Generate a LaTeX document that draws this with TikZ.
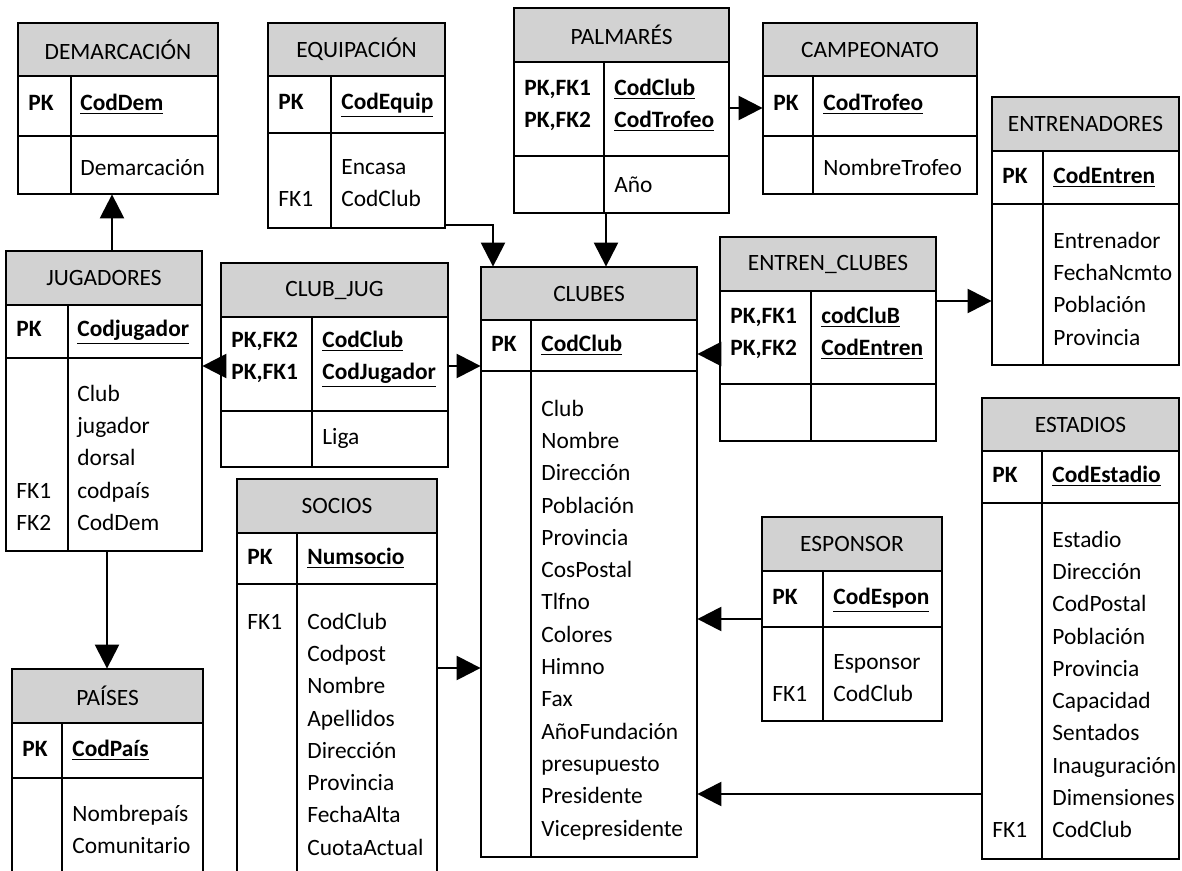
\documentclass[tikz,border=0pt]{standalone}
\usepackage{fontspec}
\setmainfont{Carlito}
\usetikzlibrary{arrows.meta,fit}

\newcommand{\clave}[1]{\textbf{\underline{#1}}}
% #1 name, #2 left, #3 top, #4 right, #5 split, #6 end of title, #7 end of key row, #8 bottom, #9 title
\newcommand{\tabla}[9]{%
  \fill[cabecera] (#2,#3) rectangle (#4,#6);
  \draw[borde] (#2,#3) rectangle (#4,#8);
  \draw[borde] (#2,#6) -- (#4,#6) (#2,#7) -- (#4,#7) (#5,#6) -- (#5,#8);
  \node[titulo] (#1-tit) at ({(#2+#4)/2},{(#3+#6)/2}) {#9};
  \node[caja, fit={(#2,#3) (#4,#8)}] (#1) {};
}
% #1 name, #2 x, #3 y of first line, #4 lines
\newcommand{\filas}[4]{%
  \foreach \t [count=\i] in {#4}
    \node[campo] (#1-\i) at (#2,{#3+(\i-1)*32.3}) {\t};
}

\begin{document}
\begin{tikzpicture}
[x=0.5pt,y=-0.5pt,
 borde/.style={line width=1pt},
 cabecera/.style={fill=gray!35},
 caja/.style={inner sep=0pt},
 titulo/.style={inner sep=0pt,font=\fontsize{11.7}{14}\selectfont},
 campo/.style={anchor=west,inner sep=0pt,text height=8pt,text depth=2.5pt,
   font=\fontsize{11.7}{14}\selectfont},
 rel/.style={line width=1.2pt,-{Triangle[length=12pt,width=12pt]}}]
\fill[white] (0,0) rectangle (1182,871);
\useasboundingbox (0,0) rectangle (1182,871);

%% tables
\tabla{demarcacion}{18}{23}{218}{71}{76}{136}{194}{DEMARCACIÓN}
\filas{demarcacion-k}{28}{105}{\textbf{PK}}
\filas{demarcacion-a}{80}{105}{\clave{CodDem},{},Demarcación}

\tabla{equipacion}{268}{23}{445}{331}{76}{133}{228}{EQUIPACIÓN}
\filas{equipacion-k}{278}{104}{\textbf{PK},{},{},FK1}
\filas{equipacion-a}{341}{104}{\clave{CodEquip},{},Encasa,CodClub}

\tabla{palmares}{514}{8}{729}{604}{62}{156}{213}{PALMARÉS}
\filas{palmares-k}{524}{90}{\textbf{PK,FK1},\textbf{PK,FK2}}
\filas{palmares-a}{614}{90}{\clave{CodClub},\clave{CodTrofeo},{},Año}

\tabla{campeonato}{763}{23}{977}{813}{76}{136}{194}{CAMPEONATO}
\filas{campeonato-k}{773}{105}{\textbf{PK}}
\filas{campeonato-a}{823}{105}{\clave{CodTrofeo},{},NombreTrofeo}

\tabla{entrenadores}{992}{97}{1179}{1043}{151}{204}{365}{ENTRENADORES}
\filas{entrenadores-k}{1002}{178}{\textbf{PK}}
\filas{entrenadores-a}{1053}{178}{\clave{CodEntren},{},Entrenador,FechaNcmto,Población,Provincia}

\tabla{jugadores}{6}{251}{202}{68}{305}{358}{551}{JUGADORES}
\filas{jugadores-k}{16}{331}{\textbf{PK},{},{},{},{},FK1,FK2}
\filas{jugadores-a}{77}{331}{\clave{Codjugador},{},Club,jugador,dorsal,codpaís,CodDem}

\tabla{clubjug}{221}{263}{448}{312}{317}{411}{467}{CLUB\_JUG}
\filas{clubjug-k}{231}{342}{\textbf{PK,FK2},\textbf{PK,FK1}}
\filas{clubjug-a}{322}{342}{\clave{CodClub},\clave{CodJugador},{},Liga}

\tabla{clubes}{481}{267}{697}{531}{320}{371}{857}{CLUBES}
\filas{clubes-k}{491}{346}{\textbf{PK}}
\filas{clubes-a}{541}{346}{\clave{CodClub},{},Club,Nombre,Dirección,Población,Provincia,CosPostal,Tlfno,Colores,Himno,Fax,AñoFundación,presupuesto,Presidente,Vicepresidente}

\tabla{entrenclubes}{720}{237}{936}{811}{291}{384}{441}{ENTREN\_CLUBES}
\filas{entrenclubes-k}{730}{318}{\textbf{PK,FK1},\textbf{PK,FK2}}
\filas{entrenclubes-a}{821}{318}{\clave{codCluB},\clave{CodEntren}}

\tabla{estadios}{982}{398}{1179}{1042}{451}{503}{859}{ESTADIOS}
\filas{estadios-k}{992}{477}{\textbf{PK}}
\filas{estadios-a}{1052}{477}{\clave{CodEstadio},{},Estadio,Dirección,CodPostal,Población,Provincia,Capacidad,Sentados,Inauguración,Dimensiones,CodClub}
\node[campo] (estadios-fk) at (992,832) {FK1};

\tabla{esponsor}{762}{517}{942}{823}{571}{627}{721}{ESPONSOR}
\filas{esponsor-k}{772}{599}{\textbf{PK},{},{},FK1}
\filas{esponsor-a}{833}{599}{\clave{CodEspon},{},Esponsor,CodClub}

\tabla{socios}{237}{479}{437}{297}{533}{584}{885}{SOCIOS}
\filas{socios-k}{247}{559}{\textbf{PK},{},FK1}
\filas{socios-a}{307}{559}{\clave{Numsocio},{},CodClub,Codpost,Nombre,Apellidos,Dirección,Provincia,FechaAlta,CuotaActual}

\tabla{paises}{12}{669}{203}{62}{723}{778}{885}{PAÍSES}
\filas{paises-k}{22}{751}{\textbf{PK}}
\filas{paises-a}{72}{751}{\clave{CodPaís},{},Nombrepaís,Comunitario}

%% relations
\draw[rel] (jugadores.north -| 112,0) -- (demarcacion.south -| 112,0);
\draw[rel] (jugadores.south -| 107,0) -- (paises.north -| 107,0);
\draw[rel] (clubjug.west |- 0,366) -- (jugadores.east |- 0,366);
\draw[rel] (clubjug.east |- 0,366) -- (clubes.west |- 0,366);
\draw[rel] (equipacion.east |- 0,225) -| (clubes.north -| 493,0);
\draw[rel] (palmares.south -| 606,0) -- (clubes.north -| 606,0);
\draw[rel] (palmares.east |- 0,108) -- (campeonato.west |- 0,108);
\draw[rel] (entrenclubes.west |- 0,354) -- (clubes.east |- 0,354);
\draw[rel] (entrenclubes.east |- 0,301) -- (entrenadores.west |- 0,301);
\draw[rel] (socios.east |- 0,668) -- (clubes.west |- 0,668);
\draw[rel] (esponsor.west |- 0,619) -- (clubes.east |- 0,619);
\draw[rel] (estadios.west |- 0,794) -- (clubes.east |- 0,794);
\end{tikzpicture}
\end{document}
